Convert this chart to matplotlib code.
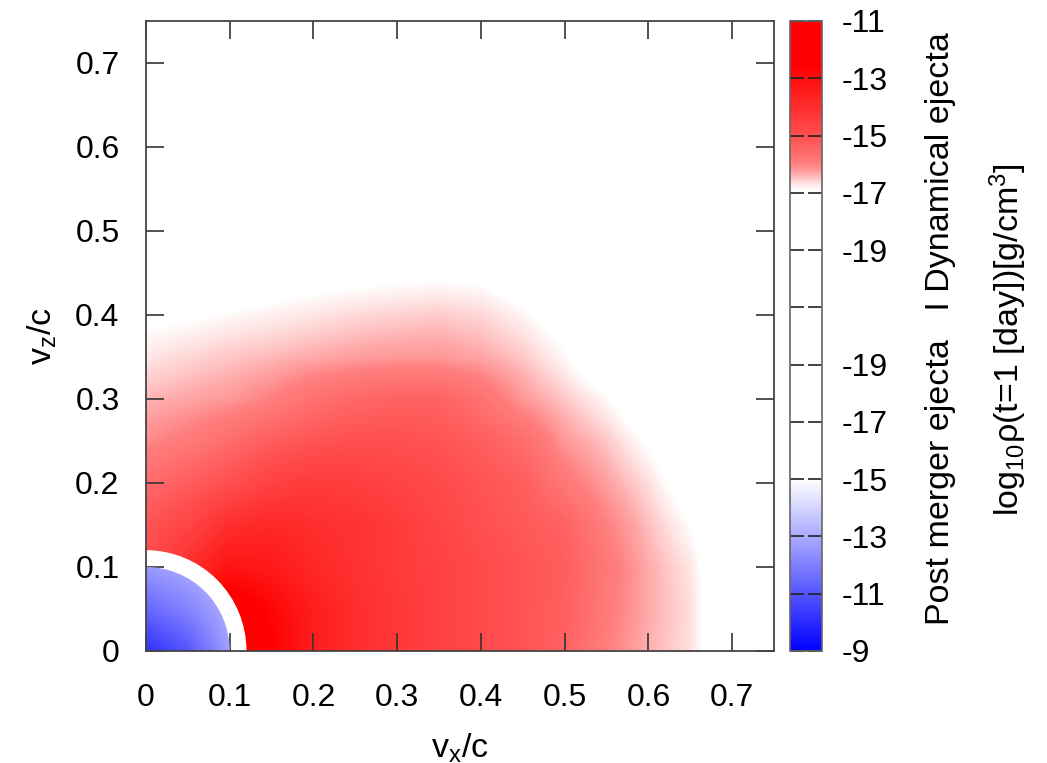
import numpy as np
import matplotlib
matplotlib.use('Agg')
import matplotlib.pyplot as plt
from matplotlib.colors import LinearSegmentedColormap, Normalize
from matplotlib.patches import Circle
import matplotlib.cm as cm

plt.rcParams['font.family'] = ['Liberation Sans', 'DejaVu Sans']
plt.rcParams['mathtext.default'] = 'regular'

# ---------------- data ----------------
# grid nodes in v/c (both v_x and v_z)
v_nodes = [0.0, 0.05, 0.10, 0.15, 0.20, 0.25, 0.30, 0.35,
           0.40, 0.45, 0.50, 0.55, 0.60, 0.65, 0.70, 0.75]

# dynamical ejecta: log10 rho at t = 1 day, rows = v_z nodes (bottom -> top), cols = v_x nodes
dyn_z000 = [-11.0, -11.0, -11.0, -12.6, -13.5, -14.0, -14.3, -14.6, -14.85, -15.1, -15.4, -16.0, -16.36, -16.67, -17.5, -19.0]
dyn_z005 = [-14.5, -13.0, -12.0, -12.8, -13.5, -14.0, -14.3, -14.6, -14.85, -15.1, -15.35, -15.9, -16.33, -16.65, -17.5, -19.0]
dyn_z010 = [-15.0, -14.0, -13.2, -13.4, -13.8, -14.1, -14.4, -14.6, -14.85, -15.1, -15.3, -15.85, -16.33, -16.7, -17.5, -19.0]
dyn_z015 = [-15.1, -14.7, -14.0, -13.8, -14.0, -14.15, -14.4, -14.7, -15.0, -15.2, -15.4, -16.0, -16.45, -16.9, -17.5, -19.0]
dyn_z020 = [-15.6, -15.3, -15.0, -14.6, -14.4, -14.5, -14.65, -14.85, -15.1, -15.3, -15.85, -16.25, -16.65, -17.2, -18.0, -19.0]
dyn_z025 = [-16.1, -15.9, -15.6, -15.3, -15.1, -15.0, -15.0, -15.1, -15.3, -15.6, -16.2, -16.5, -16.95, -17.5, -18.5, -19.0]
dyn_z030 = [-16.4, -16.3, -16.2, -16.0, -15.7, -15.5, -15.4, -15.4, -15.7, -16.2, -16.5, -16.85, -17.4, -18.0, -19.0, -19.0]
dyn_z035 = [-16.72, -16.6, -16.5, -16.42, -16.33, -16.25, -16.2, -16.2, -16.3, -16.5, -16.86, -17.4, -18.0, -18.5, -19.0, -19.0]
dyn_z040 = [-17.0, -16.95, -16.86, -16.78, -16.7, -16.62, -16.57, -16.53, -16.6, -16.82, -17.1, -17.6, -18.2, -19.0, -19.0, -19.0]
dyn_z045 = [-17.5, -17.4, -17.3, -17.2, -17.1, -17.05, -17.0, -16.98, -17.0, -17.2, -17.5, -18.0, -19.0, -19.0, -19.0, -19.0]
dyn_z050 = [-18.0, -18.0, -18.0, -18.0, -18.0, -18.0, -18.0, -18.0, -18.0, -18.0, -18.5, -19.0, -19.0, -19.0, -19.0, -19.0]
dyn_high = [-19.0] * 16   # v_z >= 0.55 : no material

# post merger ejecta: log10 rho at t = 1 day on a small grid (v = 0, 0.05, 0.10)
post_nodes = [0.0, 0.05, 0.10]
post_z000 = [-10.1, -11.0, -12.8]
post_z005 = [-11.4, -12.1, -13.1]
post_z010 = [-12.6, -13.0, -13.5]

r_post_outer = 0.10   # outer edge of post-merger ejecta (v/c)
r_dyn_inner = 0.12    # inner edge of dynamical ejecta (v/c)

cbar_labels = ['-9', '-11', '-13', '-15', '-17', '-19', '',
               '-19', '-17', '-15', '-13', '-11']
xticks = [0, 0.1, 0.2, 0.3, 0.4, 0.5, 0.6, 0.7]
tick_text = ['0', '0.1', '0.2', '0.3', '0.4', '0.5', '0.6', '0.7']

# ---------------- build arrays ----------------
dyn = np.array([dyn_z000, dyn_z005, dyn_z010, dyn_z015, dyn_z020, dyn_z025,
                dyn_z030, dyn_z035, dyn_z040, dyn_z045, dyn_z050]
               + [dyn_high] * 5)
post = np.array([post_z000, post_z005, post_z010])

# combined colour-bar coordinate u in [0, 11]:
#   post merger: u = (-9 - log rho)/2  (0 .. 5)
#   dynamical  : u = 11 + (log rho + 11)/2  (7 .. 11)
u_dyn = 11 + (dyn + 11) / 2.0
u_post = (-9 - post) / 2.0

def w2rgb_red(w):
    return (1.0, w, w)

def w2rgb_blue(w):
    return (w, w, 1.0)

N = 11.0
nodes = [
    (0.0, w2rgb_blue(0.0)),
    (3.0, w2rgb_blue(1.0)),
    (8.05, w2rgb_red(1.0)),
    (8.15, w2rgb_red(0.90)),
    (8.25, w2rgb_red(0.78)),
    (8.35, w2rgb_red(0.65)),
    (8.5, w2rgb_red(0.50)),
    (9.0, w2rgb_red(0.31)),
    (10.0, w2rgb_red(0.05)),
    (10.2, w2rgb_red(0.0)),
    (11.0, w2rgb_red(0.0)),
]
cmap = LinearSegmentedColormap.from_list('pm_dyn', [(p / N, c) for p, c in nodes], N=1024)
norm = Normalize(vmin=0, vmax=11)

W, H = 1047, 763
# ---------------- figure ----------------
fig = plt.figure(figsize=(W / 100, H / 100), dpi=100)
ax = fig.add_axes([146 / W, 1 - 651 / H, 628 / W, 630 / H])

dv = v_nodes[1] - v_nodes[0]
ax.imshow(u_dyn, origin='lower', cmap=cmap, norm=norm,
          extent=[v_nodes[0] - dv / 2, v_nodes[-1] + dv / 2,
                  v_nodes[0] - dv / 2, v_nodes[-1] + dv / 2],
          interpolation='bilinear', interpolation_stage='data', aspect='auto', zorder=0)

ring = Circle((0, 0), r_dyn_inner, facecolor='white', edgecolor='none', zorder=1)
ax.add_patch(ring)

dp = post_nodes[1] - post_nodes[0]
im_post = ax.imshow(u_post, origin='lower', cmap=cmap, norm=norm,
                    extent=[post_nodes[0] - dp / 2, post_nodes[-1] + dp / 2,
                            post_nodes[0] - dp / 2, post_nodes[-1] + dp / 2],
                    interpolation='bilinear', interpolation_stage='data', aspect='auto', zorder=2)
clip = Circle((0, 0), r_post_outer, transform=ax.transData)
im_post.set_clip_path(clip)

ax.set_xlim(0, 0.75)
ax.set_ylim(0, 0.75)
ax.set_xticks(xticks)
ax.set_xticklabels(tick_text)
ax.set_yticks(xticks)
ax.set_yticklabels(tick_text)
ax.tick_params(axis='both', direction='in', length=13, width=1.2, color='#333333',
               top=True, right=True, labelsize=23)
ax.tick_params(axis='x', pad=23)
ax.tick_params(axis='y', pad=19)
for s in ax.spines.values():
    s.set_linewidth(1.3)
    s.set_color('#444444')

fig.text(460 / W, 1 - 748 / H, 'v$_x$/c', ha='center', va='center', fontsize=24.5)
fig.text(42 / W, 1 - 336 / H, 'v$_z$/c', ha='center', va='center', rotation=90, fontsize=24.5)

# ---------------- colour bar ----------------
cax = fig.add_axes([790 / W, 1 - 651 / H, 32 / W, 630 / H])
sm = cm.ScalarMappable(norm=norm, cmap=cmap)
cb = fig.colorbar(sm, cax=cax, ticks=list(range(12)))
cb.set_ticklabels(cbar_labels)
cb.outline.set_edgecolor('#666666')
cb.outline.set_linewidth(1.2)
cax.tick_params(direction='in', length=10, width=1.2, color='#222222',
                left=True, right=True, labelleft=False, labelright=True,
                labelsize=23, pad=14)

fig.text(940 / W, 1 - 329 / H, 'Post merger ejecta   I Dynamical ejecta',
         rotation=90, ha='center', va='center', fontsize=24.5)
fig.text(1008 / W, 1 - 340 / H, 'log$_{10}$ρ(t=1 [day])[g/cm$^3$]',
         rotation=90, ha='center', va='center', fontsize=24.5)

fig.savefig('out.png', dpi=100)
